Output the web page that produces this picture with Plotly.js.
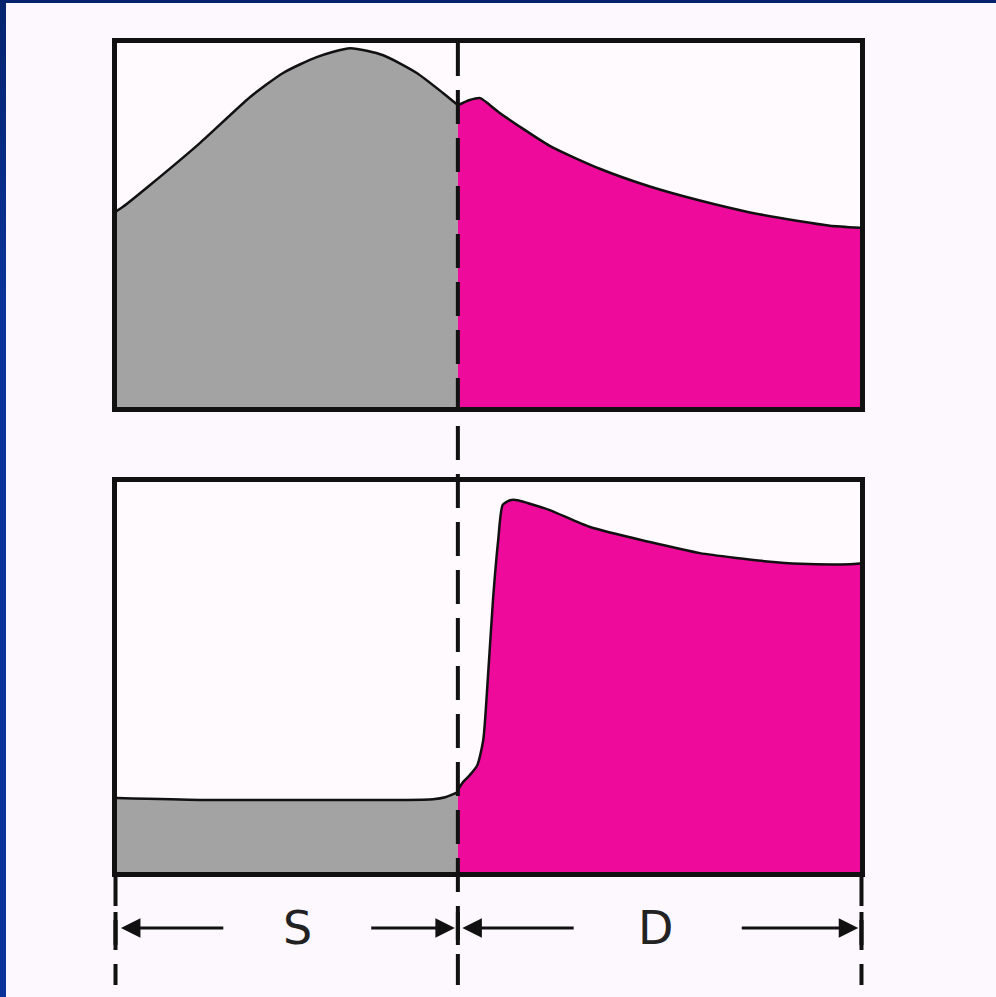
<!DOCTYPE html>
<html><head><meta charset="utf-8">
<script src="https://cdn.plot.ly/plotly-3.0.1.min.js"></script>
<style>
html,body{margin:0;padding:0;background:linear-gradient(#06246e,#0a3399 30%,#0a3399);width:996px;height:997px;overflow:hidden}
#chart{position:absolute;left:6px;top:3px;width:990px;height:994px}
</style></head><body><div id="chart"></div>
<script>
// Top panel (upper trace): S phase (gray) and D phase (magenta)
const topSx = [0, 1.07, 4.7, 11.4, 18.1, 22.5, 27.0, 31.5, 35.9, 40.4, 43.9, 45.9];
const topSy = [53.5, 54.9, 60.8, 72.2, 84.6, 91.1, 95.4, 97.8, 95.9, 91.1, 85.7, 82.4];
const topDx = [45.9, 47.5, 48.9, 50.2, 51.5, 58.2, 64.9, 71.6, 78.3, 85.0, 91.7, 95.7, 100];
const topDy = [82.4, 83.8, 84.3, 82.4, 80.3, 71.4, 65.2, 60.4, 56.6, 53.4, 51.0, 49.8, 49.2];
// Bottom panel (lower trace)
const botSx = [0, 11.4, 24.8, 38.2, 42.6, 44.2, 45.9];
const botSy = [19.5, 19.0, 19.0, 19.0, 19.2, 19.7, 21.0];
const botDx = [45.9, 46.5, 47.5, 48.5, 49.3, 49.9, 50.6, 51.3, 51.9, 52.9, 53.9, 55.2, 58.2, 63.6, 71.6, 78.3, 87.3, 91.7, 98.4, 100];
const botDy = [21.5, 23.3, 25.3, 27.8, 34.2, 49.4, 69.6, 84.8, 93.7, 94.9, 94.9, 94.2, 92.4, 88.1, 84.3, 81.5, 79.4, 78.8, 78.7, 78.9];
// Phase labels and boundary
const phaseLabels = ["S", "D"];
const phaseCenters = [24.4, 72.4];
const divideAt = 45.9;
const xStart = 0, xEnd = 100;

const gray = "#a3a3a3", magenta = "#ee0a9b";
function area(x, y, color, xa, ya) {
  return {x: x, y: y, xaxis: xa, yaxis: ya, type: "scatter", mode: "lines",
    fill: "tozeroy", fillcolor: color, line: {color: "#111", width: 2.5, shape: "spline", smoothing: 0.6},
    hoverinfo: "skip", showlegend: false};
}
const data = [
  area(topSx, topSy, gray, "x", "y"),
  area(topDx, topDy, magenta, "x", "y"),
  area(botSx, botSy, gray, "x2", "y2"),
  area(botDx, botDy, magenta, "x2", "y2")
];
const axBase = {showline: true, mirror: true, linewidth: 5, linecolor: "#111",
  showgrid: false, zeroline: false, showticklabels: false, ticks: "", fixedrange: true};
const pY = page => (872 - page) / 829;

const shapes = [
  {type: "line", xref: "x", yref: "paper", x0: divideAt, x1: divideAt, y0: pY(42), y1: pY(985),
   line: {color: "#111", width: 4, dash: "34px,14px"}, layer: "above"},
  {type: "line", xref: "paper", yref: "paper", x0: -0.002, x1: -0.002, y0: pY(876), y1: pY(985),
   line: {color: "#111", width: 4, dash: "30px,14px"}, layer: "above"},
  {type: "line", xref: "paper", yref: "paper", x0: 1.002, x1: 1.002, y0: pY(876), y1: pY(985),
   line: {color: "#111", width: 4, dash: "30px,14px"}, layer: "above"},
  {type: "line", xref: "paper", yref: "paper", x0: -0.002, x1: -0.002, y0: pY(912), y1: pY(945),
   line: {color: "#111", width: 4}},
  {type: "line", xref: "paper", yref: "paper", x0: 1.002, x1: 1.002, y0: pY(912), y1: pY(945),
   line: {color: "#111", width: 4}},
  {type: "line", xref: "x", yref: "paper", x0: divideAt, x1: divideAt, y0: pY(912), y1: pY(945),
   line: {color: "#111", width: 4}}
];

const arrowY = pY(928);
function arrow(head, tail) {
  return {xref: "x", yref: "paper", x: head, y: arrowY, axref: "x", ax: tail, ayref: "pixel", ay: 0,
    text: "", showarrow: true, arrowhead: 2, arrowsize: 1.3, arrowwidth: 3, arrowcolor: "#111"};
}
const annotations = [
  arrow(xStart + 0.8, 14.7), arrow(divideAt - 0.4, 34.1),
  arrow(divideAt + 0.6, 61.6), arrow(xEnd - 0.5, 83.7)
];
phaseLabels.forEach((t, i) => annotations.push({xref: "x", yref: "paper", x: phaseCenters[i], y: arrowY,
  text: t, showarrow: false, font: {family: "DejaVu Sans", size: 46, color: "#222"}, yanchor: "middle"}));

const layout = {
  width: 990, height: 994,
  margin: {l: 111, r: 136, t: 40, b: 125},
  paper_bgcolor: "#fdf8fd", plot_bgcolor: "#fefafe",
  showlegend: false,
  xaxis: Object.assign({}, axBase, {range: [0.27, 99.73], anchor: "y"}),
  yaxis: Object.assign({}, axBase, {range: [0.81, 99.2], domain: [0.561, 1], anchor: "x"}),
  xaxis2: Object.assign({}, axBase, {range: [0.27, 99.73], anchor: "y2"}),
  yaxis2: Object.assign({}, axBase, {range: [0.76, 99.5], domain: [0, 0.4704], anchor: "x2"}),
  shapes: shapes, annotations: annotations
};
Plotly.newPlot("chart", data, layout, {displayModeBar: false, staticPlot: true});
</script></body></html>
